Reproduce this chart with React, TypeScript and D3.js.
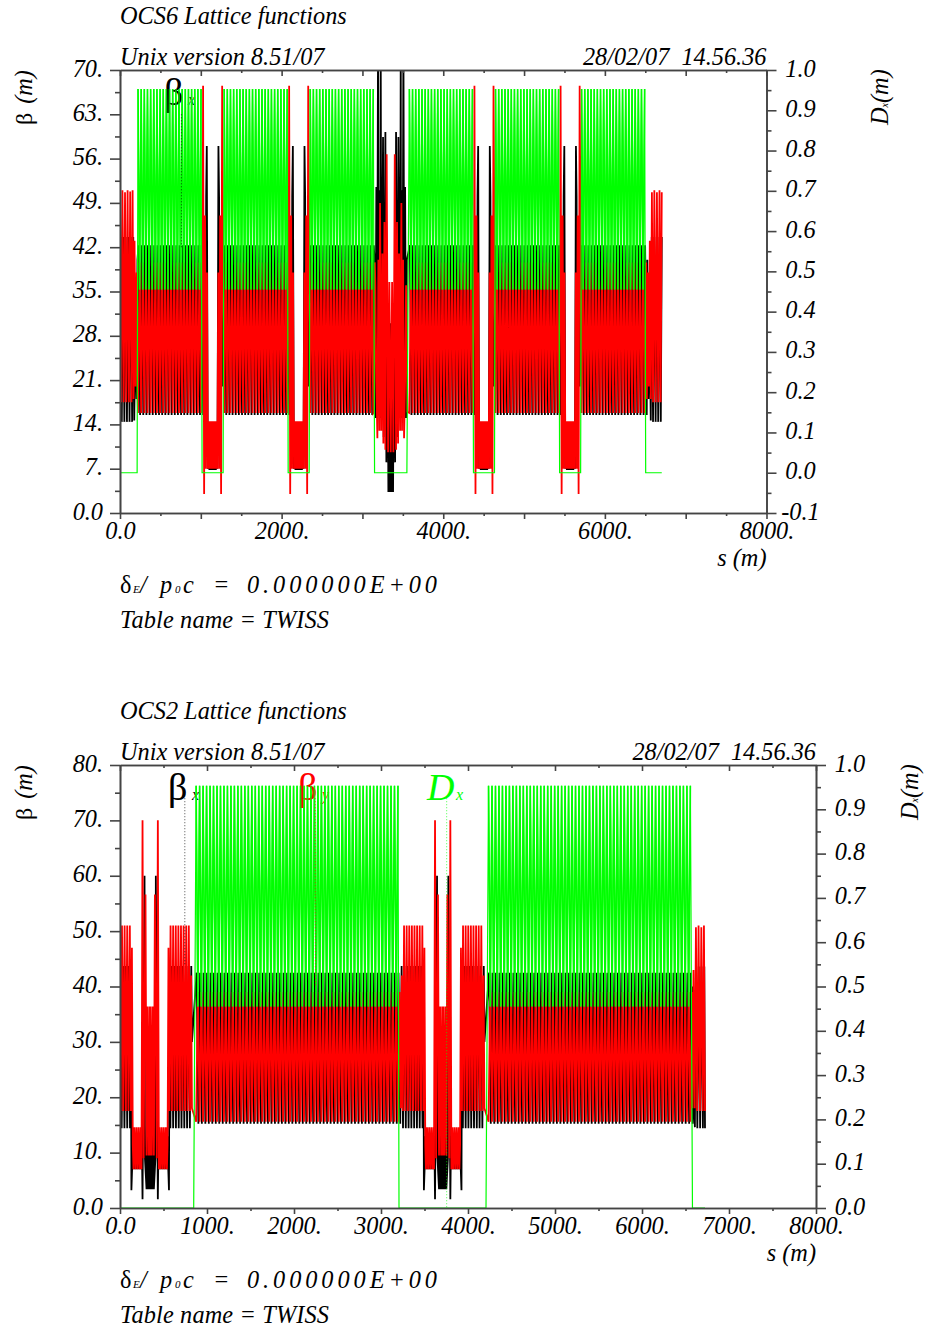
import * as d3 from "d3";
import React, { useRef, useEffect } from "react";

type Pt = [number, number];

const FONT = '"Liberation Serif", "Times New Roman", serif';
const BLACK = "#000000";
const RED = "#ff0000";
const GREEN = "#00ff00";
const AXIS = "#444444";

// ---------- axes ----------
const sTicksMajor = [0, 1000, 2000, 3000, 4000, 5000, 6000, 7000, 8000];
const sTicksMinor = [500, 1500, 2500, 3500, 4500, 5500, 6500, 7500];
const dTicksMajor = [-0.1, 0, 0.1, 0.2, 0.3, 0.4, 0.5, 0.6, 0.7, 0.8, 0.9, 1.0];
const dTicksMinor = [-0.05, 0.05, 0.15, 0.25, 0.35, 0.45, 0.55, 0.65, 0.75, 0.85, 0.95];

const ocs6BetaMajor = [0, 7, 14, 21, 28, 35, 42, 49, 56, 63, 70];
const ocs6BetaMinor = [3.5, 10.5, 17.5, 24.5, 31.5, 38.5, 45.5, 52.5, 59.5, 66.5];
const ocs6SLabels = [0, 2000, 4000, 6000, 8000];

const ocs2BetaMajor = [0, 10, 20, 30, 40, 50, 60, 70, 80];
const ocs2BetaMinor = [5, 15, 25, 35, 45, 55, 65, 75];
const ocs2SLabels = [0, 1000, 2000, 3000, 4000, 5000, 6000, 7000, 8000];

// ---------- OCS6: arc cells (s of each cell start, m) ----------
const ocs6Arcs = [
  [223, 262, 301, 340, 379, 418, 457, 496, 535, 574, 613, 652, 691, 730, 769, 808, 847, 886, 925, 964, 1003],
  [1289, 1328, 1367, 1406, 1445, 1484, 1523, 1562, 1601, 1640, 1679, 1718, 1757, 1796, 1835, 1874, 1913, 1952, 1991, 2030, 2069],
  [2354, 2393, 2432, 2471, 2510, 2549, 2588, 2627, 2666, 2705, 2744, 2783, 2822, 2861, 2900, 2939, 2978, 3017, 3056, 3095, 3134],
  [3581, 3620, 3659, 3698, 3737, 3776, 3815, 3854, 3893, 3932, 3971, 4010, 4049, 4088, 4127, 4166, 4205, 4244, 4283, 4322, 4361],
  [4647, 4686, 4725, 4764, 4803, 4842, 4881, 4920, 4959, 4998, 5037, 5076, 5115, 5154, 5193, 5232, 5271, 5310, 5349, 5388, 5427],
  [5712, 5751, 5790, 5829, 5868, 5907, 5946, 5985, 6024, 6063, 6102, 6141, 6180, 6219, 6258, 6297, 6336, 6375, 6414, 6453, 6492],
];
// one arc cell: offset in the cell (m) and the value there
const ocs6CellBetaX: Pt[] = [[6, 42.3], [26, 15.5]];
const ocs6CellBetaY: Pt[] = [[0, 15.8], [19.5, 39.6]];
const ocs6CellD: Pt[] = [[0, 0.953], [19.5, 0.455]];

// short straights: half of the section, offset from its centre (m)
const ocs6ShortCentres = [1146, 2211, 4504, 5570];
const ocs6ShortBetaY: Pt[] = [[-118, 67.5], [-105, 3], [-93, 47], [-82, 7], [-70, 38], [-58, 7], [-48, 14.5], [-38, 7], [-28, 14.5], [-18, 7], [-8, 14.5], [0, 7]];
const ocs6ShortBetaX: Pt[] = [[-120, 20], [-100, 42], [-90, 12], [-80, 50], [-72, 58], [-60, 7], [-50, 13], [-40, 6.8], [-30, 13], [-20, 6.8], [-10, 13], [0, 6.8]];
const ocs6ShortDEdge = 130;

// middle straight, same idea
const ocs6MidCentre = 3350;
const ocs6MidBetaY: Pt[] = [[-206, 16], [-190, 36], [-178, 21], [-165, 11.8], [-153, 40], [-140, 13], [-132, 49], [-116, 13], [-103, 41], [-91, 11], [-78, 46], [-66, 10], [-50, 56.7], [-33, 9.6], [-17, 36.5], [0, 9.6]];
const ocs6MidBetaX: Pt[] = [[-200, 40], [-190, 15], [-178, 51.5], [-170, 15], [-157, 75], [-145, 20], [-136, 51], [-128, 15], [-124, 75], [-116, 20], [-95, 59.4], [-87, 12], [-66, 60.2], [-54, 8], [-38, 30], [-29, 3.3], [-21, 30], [-12, 3.3], [-6, 30], [0, 3.3]];
const ocs6MidDEdge = 200;

// ends of the ring
const ocs6StartBetaY: Pt[] = [[0, 50.7], [14, 17.5], [30, 51], [46, 17.5], [62, 50.7], [78, 17.5], [94, 51], [110, 17.5], [126, 50.8], [142, 17.5], [156, 51], [168, 18], [180, 43], [192, 20], [206, 38], [218, 18]];
const ocs6StartBetaX: Pt[] = [[0, 20], [7, 43.6], [22, 14.4], [38, 43.6], [54, 14.4], [70, 43.6], [86, 14.4], [102, 43.6], [118, 14.4], [134, 43.6], [150, 14.4], [164, 43.6], [176, 14.6], [190, 28], [205, 18], [216, 40]];
const ocs6EndBetaY: Pt[] = [[6520, 18], [6532, 38], [6544, 20], [6556, 43], [6568, 18], [6582, 50.7], [6596, 17.5], [6612, 51], [6628, 17.5], [6644, 50.7], [6660, 17.5], [6676, 51], [6690, 17.5], [6704, 50.7]];
const ocs6EndBetaX: Pt[] = [[6525, 40], [6540, 18], [6555, 28], [6568, 14.6], [6580, 43.6], [6596, 14.4], [6612, 43.6], [6628, 14.4], [6644, 43.6], [6660, 14.4], [6676, 43.6], [6692, 14.4], [6704, 43.6]];
const ocs6DFlat: Pt[] = [[0, 0], [212, 0], [6505, 0], [6704, 0]];

// ---------- OCS2 ----------
const ocs2Arcs = [
  [875, 915, 955, 995, 1035, 1075, 1115, 1155, 1195, 1235, 1275, 1315, 1355, 1395, 1435, 1475, 1515, 1555, 1595, 1635, 1675, 1715, 1755, 1795, 1835, 1875, 1915, 1955, 1995, 2035, 2075, 2115, 2155, 2195, 2235, 2275, 2315, 2355, 2395, 2435, 2475, 2515, 2555, 2595, 2635, 2675, 2715, 2755, 2795, 2835, 2875, 2915, 2955, 2995, 3035, 3075, 3115, 3155, 3195],
  [4236, 4276, 4316, 4356, 4396, 4436, 4476, 4516, 4556, 4596, 4636, 4676, 4716, 4756, 4796, 4836, 4876, 4916, 4956, 4996, 5036, 5076, 5116, 5156, 5196, 5236, 5276, 5316, 5356, 5396, 5436, 5476, 5516, 5556, 5596, 5636, 5676, 5716, 5756, 5796, 5836, 5876, 5916, 5956, 5996, 6036, 6076, 6116, 6156, 6196, 6236, 6276, 6316, 6356, 6396, 6436, 6476, 6516, 6556],
];
const ocs2CellBetaX: Pt[] = [[6, 42.5], [26, 15.2]];
const ocs2CellBetaY: Pt[] = [[0, 15.6], [20, 39]];
const ocs2CellD: Pt[] = [[0, 0.953], [20, 0.455]];

const ocs2StraightCentres = [347, 3709];
const ocs2StraightBetaY: Pt[] = [[-480, 18], [-470, 42], [-458, 17.5], [-444, 51], [-430, 17.5], [-414, 51], [-400, 17.5], [-384, 51], [-370, 17.5], [-354, 51], [-340, 17.5], [-324, 51], [-310, 17.5], [-294, 51], [-280, 17.5], [-264, 51], [-250, 17.5], [-234, 51], [-222, 17.5], [-210, 47], [-200, 11.4], [-192, 7], [-180, 14.6], [-168, 7], [-156, 14.6], [-144, 7], [-132, 14.6], [-120, 7], [-108, 14.6], [-100, 7], [-88, 70], [-76, 9], [-54, 56.6], [-42, 9.5], [-30, 36.4], [-18, 9.5], [-6, 36.4], [0, 9.5]];
const ocs2StraightBetaX: Pt[] = [[-480, 30], [-472, 43.7], [-456, 14.4], [-440, 43.7], [-424, 14.4], [-408, 43.7], [-392, 14.4], [-376, 43.7], [-360, 14.4], [-344, 43.7], [-328, 14.4], [-312, 43.7], [-296, 14.4], [-280, 43.7], [-264, 14.4], [-248, 43.7], [-232, 14.4], [-222, 43.7], [-216, 3.2], [-206, 8], [-196, 13], [-186, 7], [-176, 13], [-166, 7], [-156, 13], [-146, 7], [-136, 13], [-126, 7], [-116, 13], [-106, 7], [-96, 13], [-88, 1.6], [-65, 60], [-60, 9], [-42, 3.4], [-36, 20], [-30, 3.4], [-22, 20], [-15, 3.4], [-8, 20], [0, 3.4]];

const ocs2EndBetaY: Pt[] = [[6580, 18], [6592, 43], [6606, 18], [6620, 50.7], [6634, 17.5], [6650, 51], [6666, 17.5], [6682, 50.7], [6698, 17.5], [6712, 51], [6724, 17.5]];
const ocs2EndBetaX: Pt[] = [[6585, 40], [6596, 18], [6608, 14.6], [6620, 43.6], [6636, 14.4], [6652, 43.6], [6668, 14.4], [6684, 43.6], [6700, 14.4], [6716, 43.6], [6724, 14.4]];
const ocs2DFlat: Pt[] = [[0, 0], [847, 0], [3207, 0], [4207, 0], [6580, 0], [6724, 0]];

// mirrors a half section about its centre
const mirrored = (half: Pt[], centre: number): Pt[] => {
  const left = half.map(([o, v]): Pt => [centre + o, v]);
  const right = half.filter(([o]) => o !== 0).map(([o, v]): Pt => [centre - o, v]);
  return left.concat(right);
};
const arcPoints = (arcs: number[][], cell: Pt[]): Pt[] =>
  arcs.flatMap((arc) => arc.flatMap((s) => cell.map(([o, v]): Pt => [s + o, v])));
// the dispersion of an arc stops at the peak of its last cell
const dArc = (arc: number[], cell: Pt[]): Pt[] =>
  arc.flatMap((s, i) => (i === arc.length - 1 ? [cell[0]] : cell).map(([o, v]): Pt => [s + o, v]));
const bySection = (pts: Pt[]) => pts.filter((d) => d[0] >= 0).sort((a, b) => a[0] - b[0]);

const ocs6BetaX = bySection([
  ...ocs6StartBetaX,
  ...arcPoints(ocs6Arcs, ocs6CellBetaX),
  ...ocs6ShortCentres.flatMap((c) => mirrored(ocs6ShortBetaX, c)),
  ...mirrored(ocs6MidBetaX, ocs6MidCentre),
  ...ocs6EndBetaX,
]);
const ocs6BetaY = bySection([
  ...ocs6StartBetaY,
  ...arcPoints(ocs6Arcs, ocs6CellBetaY),
  ...ocs6ShortCentres.flatMap((c) => mirrored(ocs6ShortBetaY, c)),
  ...mirrored(ocs6MidBetaY, ocs6MidCentre),
  ...ocs6EndBetaY,
]);
const ocs6Combs = ocs6Arcs.map((arc) => dArc(arc, ocs6CellD));
const ocs6D = bySection([
  ...ocs6DFlat,
  ...ocs6Combs.flat(),
  ...ocs6ShortCentres.flatMap((c): Pt[] => [[c - ocs6ShortDEdge, 0], [c + ocs6ShortDEdge, 0]]),
  [ocs6MidCentre - ocs6MidDEdge, 0] as Pt,
  [ocs6MidCentre + ocs6MidDEdge, 0] as Pt,
]);

const ocs2BetaX = bySection([
  ...arcPoints(ocs2Arcs, ocs2CellBetaX),
  ...ocs2StraightCentres.flatMap((c) => mirrored(ocs2StraightBetaX, c)),
  ...ocs2EndBetaX,
]);
const ocs2BetaY = bySection([
  ...arcPoints(ocs2Arcs, ocs2CellBetaY),
  ...ocs2StraightCentres.flatMap((c) => mirrored(ocs2StraightBetaY, c)),
  ...ocs2EndBetaY,
]);
const ocs2Combs = ocs2Arcs.map((arc) => dArc(arc, ocs2CellD));
const ocs2D = bySection([...ocs2DFlat, ...ocs2Combs.flat()]);

type LegendItem = { label: string; sub: string; symbol: boolean; color: string; s: number; from: number; to: number; textX: number };

type PanelProps = {
  id: string;
  title: string;
  date: string;
  left: number;
  right: number;
  top: number;
  bottom: number;
  betaMax: number;
  dMin: number;
  betaMajor: number[];
  betaMinor: number[];
  sLabels: number[];
  betaX: Pt[];
  betaY: Pt[];
  dx: Pt[];
  combs: Pt[][];
  legend: LegendItem[];
  dLabelX: number;
};

const Panel = (p: PanelProps) => {
  const axesRef = useRef<SVGGElement>(null);
  const curvesRef = useRef<SVGGElement>(null);

  const xScale = d3.scaleLinear().domain([0, 8000]).range([p.left, p.right]);
  const yBeta = d3.scaleLinear().domain([0, p.betaMax]).range([p.bottom, p.top]);
  const yD = d3.scaleLinear().domain([p.dMin, 1]).range([p.bottom, p.top]);

  useEffect(() => {
    const axes = d3.select(axesRef.current);
    axes.selectAll("*").remove();

    const styleAxis = (g: any) => {
      g.selectAll("path,line").attr("stroke", AXIS).attr("stroke-width", 1.6);
      g.selectAll("text").attr("fill", "#000").attr("font-family", FONT).attr("font-style", "italic").attr("font-size", 24.3);
    };
    const fmtS = (d: number) => (p.sLabels.includes(d) ? (d === 0 ? "0.0" : `${d}.`) : "");
    const fmtBeta = (d: number) => (d === 0 ? "0.0" : `${d}.`);
    const fmtD = (d: number) => d.toFixed(1);

    const bottomMajor = axes.append("g").attr("transform", `translate(0,${p.bottom})`)
      .call(d3.axisBottom(xScale).tickValues(sTicksMajor).tickSize(6).tickSizeOuter(0).tickFormat(fmtS as any));
    bottomMajor.selectAll("text").attr("y", 26).attr("dy", 0).attr("text-anchor", "middle");
    styleAxis(bottomMajor);
    const bottomMinor = axes.append("g").attr("transform", `translate(0,${p.bottom})`)
      .call(d3.axisBottom(xScale).tickValues(sTicksMinor).tickSize(3).tickSizeOuter(0).tickFormat(() => ""));
    styleAxis(bottomMinor);

    const topMajor = axes.append("g").attr("transform", `translate(0,${p.top})`)
      .call(d3.axisBottom(xScale).tickValues(sTicksMajor).tickSize(6).tickSizeOuter(0).tickFormat(() => ""));
    styleAxis(topMajor);
    const topMinor = axes.append("g").attr("transform", `translate(0,${p.top})`)
      .call(d3.axisBottom(xScale).tickValues(sTicksMinor).tickSize(3).tickSizeOuter(0).tickFormat(() => ""));
    styleAxis(topMinor);

    const leftMajor = axes.append("g").attr("transform", `translate(${p.left},0)`)
      .call(d3.axisLeft(yBeta).tickValues(p.betaMajor).tickSize(10).tickSizeOuter(0).tickFormat(fmtBeta as any));
    leftMajor.selectAll("text").attr("x", -17).attr("dy", 6);
    styleAxis(leftMajor);
    const leftMinor = axes.append("g").attr("transform", `translate(${p.left},0)`)
      .call(d3.axisLeft(yBeta).tickValues(p.betaMinor).tickSize(5).tickSizeOuter(0).tickFormat(() => ""));
    styleAxis(leftMinor);

    const dMajor = dTicksMajor.filter((d) => d >= p.dMin - 1e-9);
    const dMinor = dTicksMinor.filter((d) => d >= p.dMin - 1e-9);
    const rightMajor = axes.append("g").attr("transform", `translate(${p.right},0)`)
      .call(d3.axisRight(yD).tickValues(dMajor).tickSize(10).tickSizeOuter(0).tickFormat(fmtD as any));
    rightMajor.selectAll("text").attr("x", 34).attr("dy", 6).attr("text-anchor", "middle");
    styleAxis(rightMajor);
    const rightMinor = axes.append("g").attr("transform", `translate(${p.right},0)`)
      .call(d3.axisRight(yD).tickValues(dMinor).tickSize(5).tickSizeOuter(0).tickFormat(() => ""));
    styleAxis(rightMinor);

    const curves = d3.select(curvesRef.current);
    curves.selectAll("*").remove();
    const betaLine = d3.line<Pt>().x((d) => xScale(d[0])).y((d) => yBeta(d[1]));
    const dLine = d3.line<Pt>().x((d) => xScale(d[0])).y((d) => yD(d[1]));
    curves.append("path").datum(p.betaX).attr("fill", "none").attr("stroke", BLACK).attr("stroke-width", 1.8).attr("d", betaLine);
    curves.append("path").datum(p.betaY).attr("fill", "none").attr("stroke", RED).attr("stroke-width", 1.8).attr("d", betaLine);
    curves.append("path").datum(p.dx).attr("fill", "none").attr("stroke", GREEN).attr("stroke-width", 1.2).attr("d", dLine);
    p.combs.forEach((comb) => {
      curves.append("path").datum(comb).attr("fill", "none").attr("stroke", GREEN).attr("stroke-width", 1.6).attr("d", dLine);
    });
  }, []);

  const text = { fontFamily: FONT, fontStyle: "italic", fontSize: 24.3, fill: "#000" } as const;
  const legendY = p.top + 35;

  const legendGlyph = (l: LegendItem, opacity: number) => (
    <text x={l.textX} y={legendY} fontFamily={FONT} fontStyle={l.symbol ? "normal" : "italic"} fontSize={38} fill={l.color} opacity={opacity}>{l.label}</text>
  );

  return (
    <g>
      <text x={p.left} y={p.top - 46.5} {...text}>{p.title}</text>
      <text x={p.left} y={p.top - 5} {...text}>Unix version 8.51/07</text>
      <text x={p.right} y={p.top - 5} textAnchor="end" style={{ whiteSpace: "pre" }} {...text}>{p.date}</text>

      {p.legend.map((l) => (
        <g key={l.label + l.sub}>
          {legendGlyph(l, 1)}
          <text x={l.textX + (l.symbol ? 24 : 29)} y={legendY} fontFamily={FONT} fontStyle="italic" fontSize={16} fill={l.color}>{l.sub}</text>
        </g>
      ))}

      <clipPath id={`${p.id}-clip`}>
        <rect x={p.left} y={p.top} width={p.right - p.left} height={p.bottom - p.top} />
      </clipPath>
      <g ref={curvesRef} clipPath={`url(#${p.id}-clip)`} />

      {/* the green comb overprints the legend, the glyph still shows through */}
      {p.legend.filter((l) => l.symbol).map((l) => (
        <g key={l.label + l.sub + "over"}>{legendGlyph(l, 0.35)}</g>
      ))}

      {p.legend.map((l) => (
        <line key={l.label + l.sub + "lead"} x1={xScale(l.s)} x2={xScale(l.s)} y1={yBeta(l.from)} y2={yBeta(l.to)} stroke={l.color} strokeWidth={1} strokeDasharray="1,2" opacity={0.7} />
      ))}

      <g ref={axesRef} />

      <text transform={`translate(${p.left - 88},${p.top + 55}) rotate(-90)`} {...text} fontSize={24.3}>
        <tspan fontStyle="normal" fontSize={24}>β</tspan>
        <tspan dx={9}>(m)</tspan>
      </text>
      <text transform={`translate(${p.dLabelX},${p.top + 55}) rotate(-90)`} {...text} fontSize={24.3}>
        <tspan>D</tspan>
        <tspan fontSize={10}>x</tspan>
        <tspan dx={0}>(m)</tspan>
      </text>

      <text x={p.right} y={p.bottom + 53} textAnchor="end" {...text}>s (m)</text>

      <text x={p.left} y={p.bottom + 80} {...text} fontStyle="normal">δ</text>
      <text x={p.left + 13} y={p.bottom + 80} {...text} fontSize={11}>E</text>
      <text x={p.left + 20} y={p.bottom + 80} {...text}>/</text>
      <text x={p.left + 40} y={p.bottom + 80} {...text}>p</text>
      <text x={p.left + 55} y={p.bottom + 80} {...text} fontSize={11}>0</text>
      <text x={p.left + 63} y={p.bottom + 80} {...text}>c</text>
      <text x={p.left + 93} y={p.bottom + 80} {...text}>=</text>
      <text x={p.left + 127} y={p.bottom + 80} {...text} textLength={190} lengthAdjust="spacing">0.000000E+00</text>
      <text x={p.left} y={p.bottom + 115} {...text} textLength={209} lengthAdjust="spacing">Table name = TWISS</text>
    </g>
  );
};

const App = () => (
  <svg width={933} height={1331} style={{ position: "absolute", left: 0, top: 0, background: "#fff" }}>
    <Panel
      id="ocs6"
      title="OCS6 Lattice functions"
      date="28/02/07  14.56.36"
      left={120}
      right={766.5}
      top={70}
      bottom={513}
      betaMax={70}
      dMin={-0.1}
      betaMajor={ocs6BetaMajor}
      betaMinor={ocs6BetaMinor}
      sLabels={ocs6SLabels}
      betaX={ocs6BetaX}
      betaY={ocs6BetaY}
      dx={ocs6D}
      combs={ocs6Combs}
      dLabelX={888}
      legend={[{ label: "β", sub: "x", symbol: true, color: BLACK, s: 760, from: 63, to: 42, textX: 164 }]}
    />
    <Panel
      id="ocs2"
      title="OCS2 Lattice functions"
      date="28/02/07  14.56.36"
      left={120}
      right={816}
      top={765}
      bottom={1208}
      betaMax={80}
      dMin={0}
      betaMajor={ocs2BetaMajor}
      betaMinor={ocs2BetaMinor}
      sLabels={ocs2SLabels}
      betaX={ocs2BetaX}
      betaY={ocs2BetaY}
      dx={ocs2D}
      combs={ocs2Combs}
      dLabelX={918}
      legend={[
        { label: "β", sub: "x", symbol: true, color: BLACK, s: 745, from: 74, to: 44, textX: 168 },
        { label: "β", sub: "y", symbol: true, color: RED, s: 2245, from: 74, to: 40, textX: 298 },
        { label: "D", sub: "x", symbol: false, color: GREEN, s: 3755, from: 74, to: 0, textX: 427 },
      ]}
    />
  </svg>
);

export default App;
